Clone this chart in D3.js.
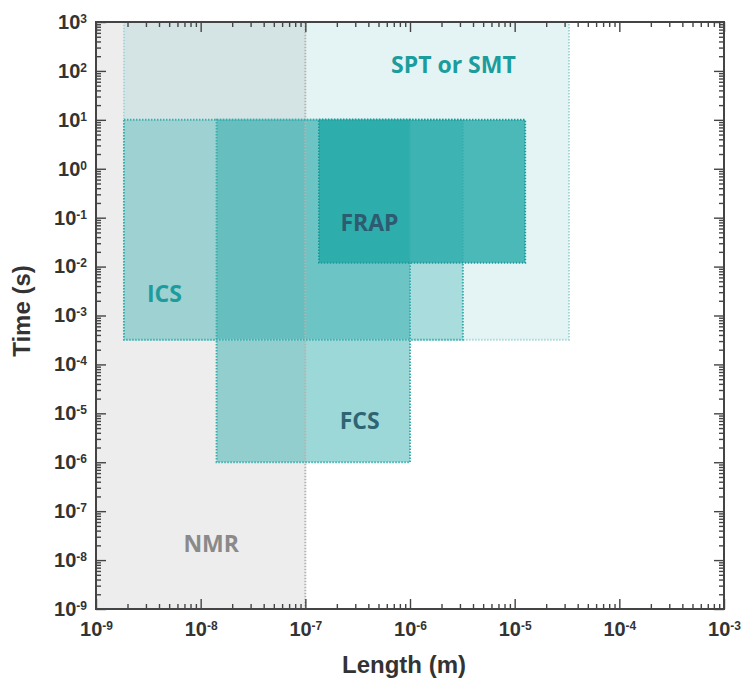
<!DOCTYPE html>
<html>
<head>
<meta charset="utf-8">
<script src="https://cdn.jsdelivr.net/npm/d3@7"></script>
<style>
  body { margin: 0; background: #fff; }
  .axis path { display: none; }
  .axis line { stroke: #444; stroke-width: 1.4; }
  .axis text { font-family: Arial, "Liberation Sans", sans-serif; font-weight: bold; font-size: 20px; fill: #333; }
  .region-label { font-family: "Open Sans", sans-serif; font-weight: 700; font-size: 23px; }
  .axis-title { font-family: Arial, "Liberation Sans", sans-serif; font-weight: bold; font-size: 24px; fill: #333; }
</style>
</head>
<body>
<div class="chart"></div>
<script>
// technique ranges: length (m) and time (s)
var techniques = ["NMR", "SPT or SMT", "ICS", "FCS", "FRAP"];
var lengthMin  = [1e-9, 1.85e-9, 1.85e-9, 1.42e-8, 1.35e-7];
var lengthMax  = [1e-7, 3.3e-5, 3.2e-6, 1e-6, 1.26e-5];
var timeMin    = [1e-9, 3.2e-4, 3.2e-4, 1e-6, 1.2e-2];
var timeMax    = [1e3, 1e3, 10, 10, 10];
// where each name sits, in data units
var labelLength = [1.26e-8, 2.6e-6, 4.5e-9, 3.3e-7, 4.1e-7];
var labelTime   = [2.2e-8, 138, 2.9e-3, 7.4e-6, 8.3e-2];

var xTickExp = [-9, -8, -7, -6, -5, -4, -3];
var yTickExp = [3, 2, 1, 0, -1, -2, -3, -4, -5, -6, -7, -8, -9];

var fills    = ["#ededed", "#20a6a6", "#20a6a6", "#20a6a6", "#19a5a5"];
var opac     = [1, 0.12, 0.3, 0.44, 0.75];
var borders  = ["#b3b3b3", "#a6d8d8", "#3aaeae", "#3aaeae", "#1a9c9c"];
var txtColor = ["#8a8a8a", "#1c9c9c", "#1c9c9c", "#2f6473", "#2d5b70"];

var margin = {top: 22, right: 19, bottom: 75, left: 96};
var width = 743 - margin.left - margin.right;
var height = 684 - margin.top - margin.bottom;

var x = d3.scaleLog().domain([1e-9, 1e-3]).range([0, width]);
var y = d3.scaleLog().domain([1e-9, 1e3]).range([height, 0]);

var svg = d3.select(".chart")
    .append("svg")
    .attr("width", 743)
    .attr("height", 684)
  .append("g")
    .attr("transform", "translate(" + margin.left + "," + margin.top + ")");

var rows = techniques.map(function(t, i) {
  return {name: t, x0: lengthMin[i], x1: lengthMax[i], y0: timeMin[i], y1: timeMax[i], i: i};
});

svg.selectAll("rect.fill")
    .data(rows)
  .enter().append("rect")
    .attr("class", "fill")
    .attr("x", function(d) { return x(d.x0); })
    .attr("y", function(d) { return y(d.y1); })
    .attr("width", function(d) { return x(d.x1) - x(d.x0); })
    .attr("height", function(d) { return y(d.y0) - y(d.y1); })
    .attr("fill", function(d) { return fills[d.i]; })
    .attr("fill-opacity", function(d) { return opac[d.i]; });

svg.selectAll("rect.border")
    .data(rows)
  .enter().append("rect")
    .attr("class", "border")
    .attr("x", function(d) { return x(d.x0); })
    .attr("y", function(d) { return y(d.y1); })
    .attr("width", function(d) { return x(d.x1) - x(d.x0); })
    .attr("height", function(d) { return y(d.y0) - y(d.y1); })
    .attr("fill", "none")
    .attr("stroke", function(d) { return borders[d.i]; })
    .attr("stroke-width", 2)
    .attr("stroke-dasharray", "1.5,1.5");

svg.selectAll("text.region-label")
    .data(rows)
  .enter().append("text")
    .attr("class", "region-label")
    .attr("x", function(d) { return x(labelLength[d.i]); })
    .attr("y", function(d) { return y(labelTime[d.i]); })
    .attr("text-anchor", "middle")
    .attr("dominant-baseline", "central")
    .attr("fill", function(d) { return txtColor[d.i]; })
    .text(function(d) { return d.name; });

// minor tick positions 2..9 per decade
function minors(exps) {
  var out = [];
  exps.forEach(function(e) {
    for (var k = 2; k < 10; k++) out.push(k * Math.pow(10, e));
  });
  return out;
}
var xMajor = xTickExp.map(function(e) { return Math.pow(10, e); });
var yMajor = yTickExp.map(function(e) { return Math.pow(10, e); });
var xMinor = minors(xTickExp.slice(0, -1));
var yMinor = minors(yTickExp.slice(1));

function supLabel(sel) {
  sel.selectAll(".tick text").each(function(d) {
    var t = d3.select(this);
    t.text(null);
    t.append("tspan").text("10");
    t.append("tspan").attr("dy", "-6px").style("font-size", "12px")
      .text(Math.round(Math.log10(d)));
  });
}

// bottom
svg.append("g").attr("class", "axis")
    .attr("transform", "translate(0," + height + ")")
    .call(d3.axisBottom(x).tickValues(xMajor).tickSizeInner(-10).tickSizeOuter(0).tickPadding(13))
    .call(supLabel);
svg.append("g").attr("class", "axis")
    .attr("transform", "translate(0," + height + ")")
    .call(d3.axisBottom(x).tickValues(xMinor).tickSize(-5).tickFormat(""));
// top
svg.append("g").attr("class", "axis")
    .call(d3.axisTop(x).tickValues(xMajor).tickSize(-10).tickFormat(""));
svg.append("g").attr("class", "axis")
    .call(d3.axisTop(x).tickValues(xMinor).tickSize(-5).tickFormat(""));
// left
svg.append("g").attr("class", "axis")
    .call(d3.axisLeft(y).tickValues(yMajor).tickSizeInner(-10).tickSizeOuter(0).tickPadding(9))
    .call(supLabel);
svg.append("g").attr("class", "axis")
    .call(d3.axisLeft(y).tickValues(yMinor).tickSize(-5).tickFormat(""));
// right
svg.append("g").attr("class", "axis")
    .attr("transform", "translate(" + width + ",0)")
    .call(d3.axisRight(y).tickValues(yMajor).tickSize(-10).tickFormat(""));
svg.append("g").attr("class", "axis")
    .attr("transform", "translate(" + width + ",0)")
    .call(d3.axisRight(y).tickValues(yMinor).tickSize(-5).tickFormat(""));

svg.append("rect")
    .attr("width", width)
    .attr("height", height)
    .attr("fill", "none")
    .attr("stroke", "#444")
    .attr("stroke-width", 2);

svg.append("text")
    .attr("class", "axis-title")
    .attr("text-anchor", "middle")
    .attr("x", width / 2 - 6)
    .attr("y", height + 64)
    .text("Length (m)");

svg.append("text")
    .attr("class", "axis-title")
    .attr("text-anchor", "middle")
    .attr("dominant-baseline", "central")
    .attr("transform", "translate(-75," + (289) + ") rotate(-90)")
    .text("Time (s)");
</script>
</body>
</html>
